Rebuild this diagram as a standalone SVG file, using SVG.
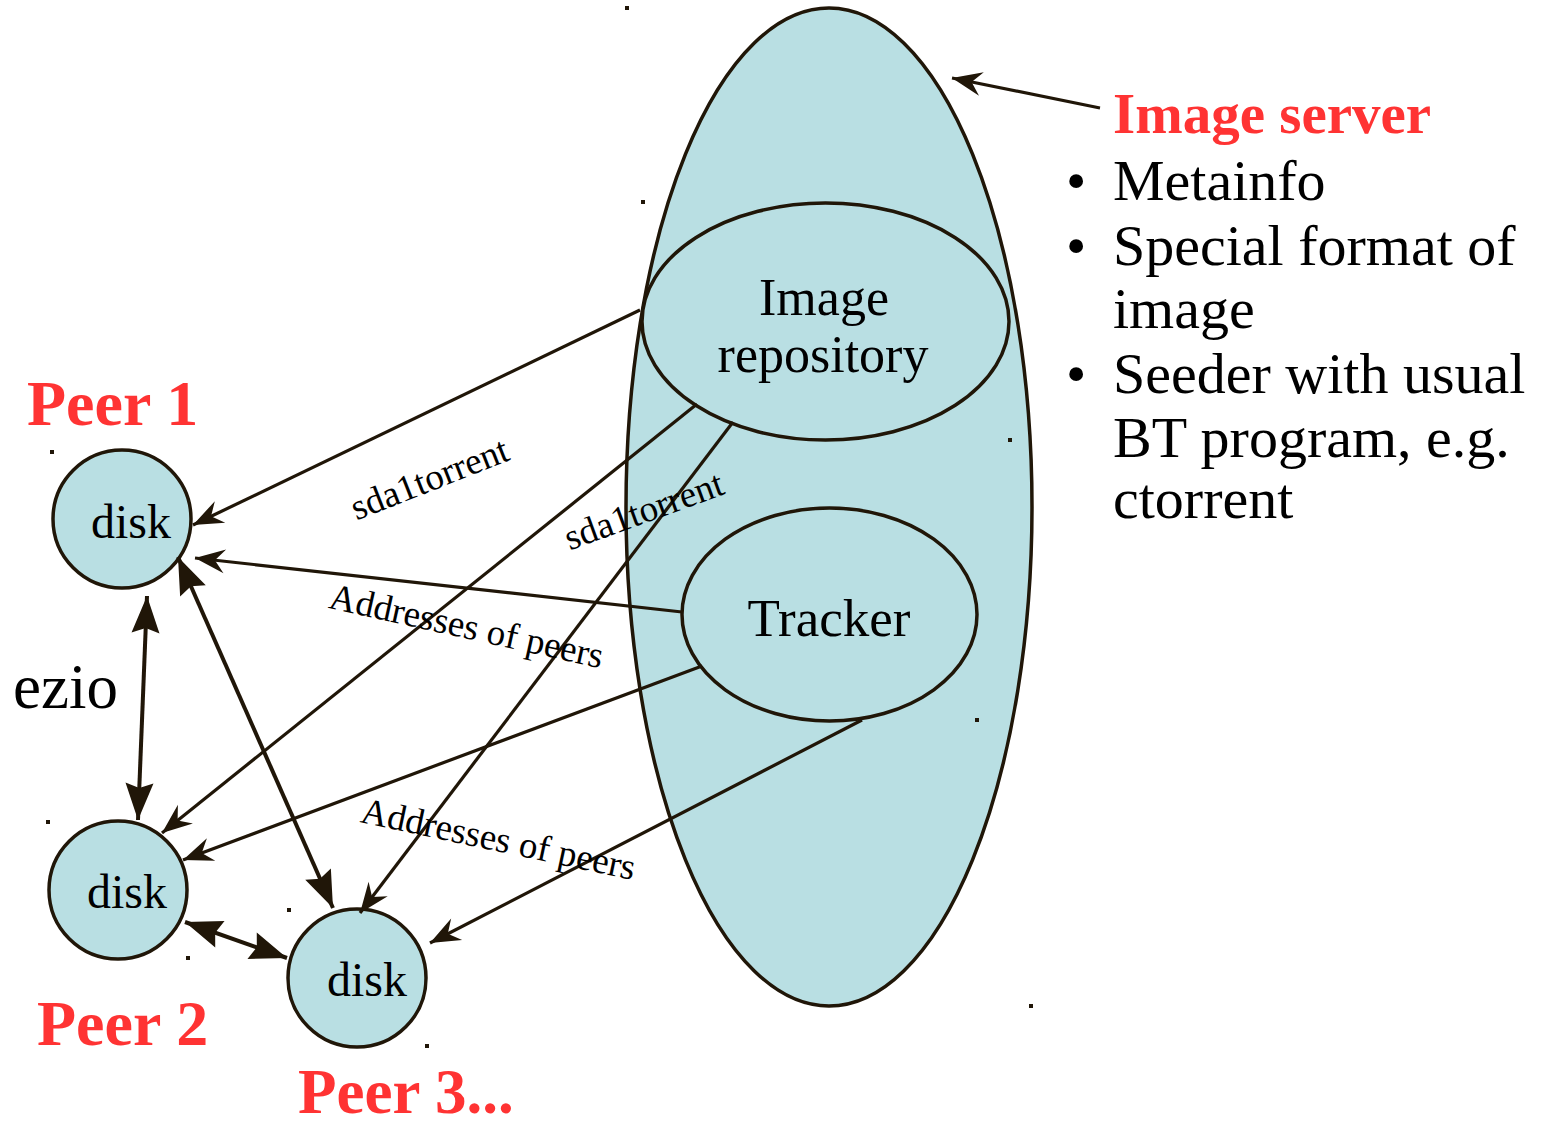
<svg xmlns="http://www.w3.org/2000/svg" width="1542" height="1123" viewBox="0 0 1542 1123">
<style>
.shape{fill:#b9dfe3;stroke:#201608;stroke-width:3.5}
.ln{stroke:#201608;stroke-width:3.2;fill:none}
.bl{stroke:#201608;stroke-width:4;fill:none}
.t{font-family:"Liberation Serif","Times New Roman",serif;fill:#000}
.red{font-family:"Liberation Serif","Times New Roman",serif;fill:#ff3333;font-weight:bold}
.lab{font-family:"Liberation Serif","Times New Roman",serif;fill:#000;font-size:37px}
.dot{fill:#201608}
</style>
<defs>
<marker id="thin" viewBox="-32 -15 34 30" refX="0" refY="0" markerWidth="34" markerHeight="30" markerUnits="userSpaceOnUse" orient="auto">
<path d="M0,0 L-30,-12 L-20,0 L-30,12 Z" fill="#201608"/>
</marker>
<marker id="bold" viewBox="-40 -16 42 32" refX="0" refY="0" markerWidth="42" markerHeight="32" markerUnits="userSpaceOnUse" orient="auto-start-reverse">
<path d="M0,0 L-37,-14 L-32,0 L-37,14 Z" fill="#201608"/>
</marker>
</defs>
<g id="image-server">
<ellipse class="shape" cx="829" cy="507" rx="203" ry="499"/>
</g>
<g id="image-repository">
<ellipse class="shape" cx="825.5" cy="321.5" rx="183.5" ry="118.5"/>
<text class="t" x="824" y="315" font-size="52" text-anchor="middle">Image</text>
<text class="t" x="823" y="372" font-size="52" text-anchor="middle">repository</text>
</g>
<g id="tracker">
<ellipse class="shape" cx="829.5" cy="614.5" rx="147.5" ry="106.5"/>
<text class="t" x="829" y="636" font-size="53" text-anchor="middle">Tracker</text>
</g>
<g id="peer1">
<circle class="shape" cx="122" cy="519" r="69"/>
<text class="t" x="131" y="538" font-size="48" text-anchor="middle">disk</text>
<text class="red" x="27" y="425" font-size="64">Peer 1</text>
</g>
<g id="peer2">
<circle class="shape" cx="118" cy="890" r="69"/>
<text class="t" x="127" y="908" font-size="48" text-anchor="middle">disk</text>
<text class="red" x="37" y="1045" font-size="64">Peer 2</text>
</g>
<g id="peer3">
<circle class="shape" cx="357" cy="978" r="69"/>
<text class="t" x="367" y="996" font-size="48" text-anchor="middle">disk</text>
<text class="red" x="298" y="1113" font-size="63">Peer 3...</text>
</g>
<g id="connectors">
<line class="ln" x1="640" y1="310" x2="193" y2="525" marker-end="url(#thin)"/>
<line class="ln" x1="697" y1="404" x2="162" y2="833" marker-end="url(#thin)"/>
<line class="ln" x1="733" y1="422" x2="360" y2="913" marker-end="url(#thin)"/>
<line class="ln" x1="682" y1="612" x2="195" y2="558" marker-end="url(#thin)"/>
<line class="ln" x1="702" y1="666" x2="183" y2="860" marker-end="url(#thin)"/>
<line class="ln" x1="862" y1="720" x2="430" y2="943" marker-end="url(#thin)"/>
<line class="ln" x1="1100" y1="108" x2="952" y2="78" marker-end="url(#thin)"/>
<line class="bl" x1="147" y1="596" x2="138" y2="820" marker-start="url(#bold)" marker-end="url(#bold)"/>
<line class="bl" x1="178" y1="557" x2="333" y2="908" marker-start="url(#bold)" marker-end="url(#bold)"/>
<line class="bl" x1="185" y1="922" x2="287" y2="958" marker-start="url(#bold)" marker-end="url(#bold)"/>
<text class="lab" transform="translate(434,490) rotate(-21.5)" text-anchor="middle">sda1torrent</text>
<text class="lab" transform="translate(648,522) rotate(-20)" text-anchor="middle">sda1torrent</text>
<text class="lab" transform="translate(464,638) rotate(12.5)" text-anchor="middle">Addresses of peers</text>
<text class="lab" transform="translate(496,851) rotate(12)" text-anchor="middle">Addresses of peers</text>
</g>
<g id="ezio">
<text class="t" x="13" y="708" font-size="63">ezio</text>
</g>
<g id="server-notes">
<text class="red" x="1113" y="133" font-size="57">Image server</text>
<text class="t" font-size="58">
<tspan x="1066" y="200">•</tspan><tspan x="1113" y="200">Metainfo</tspan>
<tspan x="1066" y="265">•</tspan><tspan x="1113" y="265">Special format of</tspan>
<tspan x="1113" y="328">image</tspan>
<tspan x="1066" y="393">•</tspan><tspan x="1113" y="393">Seeder with usual</tspan>
<tspan x="1113" y="457">BT program, e.g.</tspan>
<tspan x="1113" y="518">ctorrent</tspan>
</text>
</g>
<g id="dots">
<rect class="dot" x="625" y="6" width="4" height="4"/>
<rect class="dot" x="641" y="200" width="4" height="4"/>
<rect class="dot" x="1008" y="438" width="4" height="4"/>
<rect class="dot" x="975" y="718" width="4" height="4"/>
<rect class="dot" x="1029" y="1004" width="4" height="4"/>
<rect class="dot" x="50" y="450" width="4" height="4"/>
<rect class="dot" x="46" y="820" width="4" height="4"/>
<rect class="dot" x="186" y="956" width="4" height="4"/>
<rect class="dot" x="287" y="908" width="4" height="4"/>
<rect class="dot" x="425" y="1044" width="4" height="4"/>
</g>
</svg>
